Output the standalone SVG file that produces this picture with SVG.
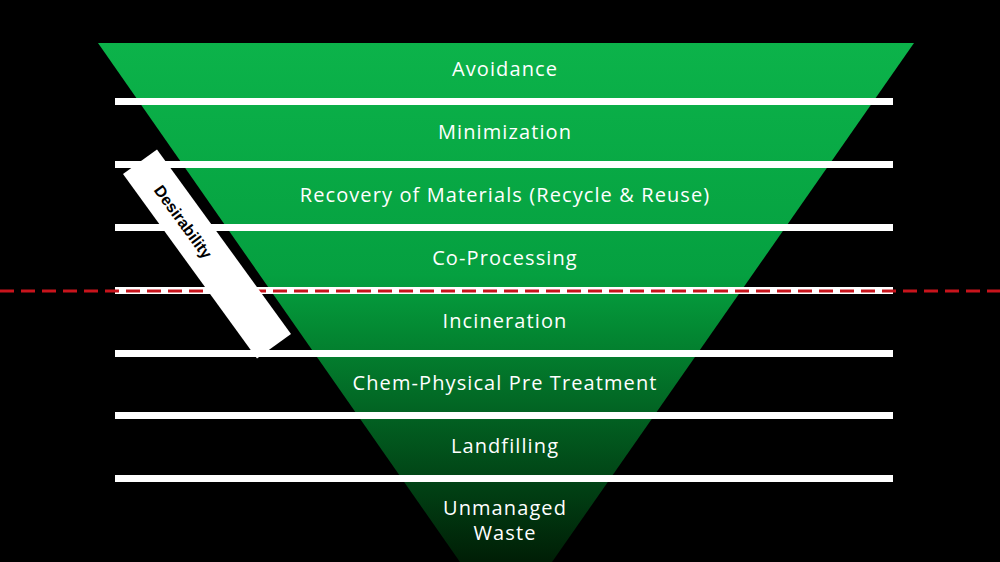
<svg xmlns="http://www.w3.org/2000/svg" width="1000" height="562" viewBox="0 0 1000 562">
<defs>
<linearGradient id="g" x1="0" y1="43" x2="0" y2="560" gradientUnits="userSpaceOnUse">
<stop offset="0" stop-color="#0cb34a"/><stop offset="0.45" stop-color="#05a040"/><stop offset="0.55" stop-color="#038a33"/><stop offset="1" stop-color="#001f06"/>
</linearGradient>
<style>
.bar{fill:#fff}
.lbl{fill:#fff;font-family:"Open Sans","Liberation Sans",sans-serif;font-size:20px;text-anchor:middle;letter-spacing:1.1px}
</style>
</defs>
<rect width="1000" height="562" fill="#000"/>
<g id="pyramid"><polygon points="98,43 914,43 506,628" fill="url(#g)"/></g>
<g id="bars">
<rect class="bar" x="115" y="98" width="778" height="7"/>
<rect class="bar" x="115" y="161" width="778" height="7"/>
<rect class="bar" x="115" y="224" width="778" height="7"/>
<rect class="bar" x="115" y="287" width="778" height="7"/>
<rect class="bar" x="115" y="350" width="778" height="7"/>
<rect class="bar" x="115" y="412" width="778" height="7"/>
<rect class="bar" x="115" y="475" width="778" height="7"/>
</g>
<g id="labels">
<text class="lbl" x="505" y="76">Avoidance</text>
<text class="lbl" x="505" y="139">Minimization</text>
<text class="lbl" x="505" y="202">Recovery of Materials (Recycle &amp; Reuse)</text>
<text class="lbl" x="505" y="265">Co-Processing</text>
<text class="lbl" x="505" y="328">Incineration</text>
<text class="lbl" x="505" y="390">Chem-Physical Pre Treatment</text>
<text class="lbl" x="505" y="453">Landfilling</text>
<text class="lbl" x="505" y="515">Unmanaged</text>
<text class="lbl" x="505" y="540">Waste</text>
</g>
<g id="connectors"><line x1="0" y1="291" x2="1000" y2="291" stroke="#c8141c" stroke-width="3" stroke-dasharray="14 7"/></g>
<g id="desirability" transform="translate(207,254) rotate(54)">
<rect x="-114" y="-21" width="228" height="42" fill="#fff"/>
<text x="-40" y="6" font-family="Liberation Sans,Arial,sans-serif" font-weight="bold" font-size="16" text-anchor="middle" fill="#000">Desirability</text>
</g>
</svg>
